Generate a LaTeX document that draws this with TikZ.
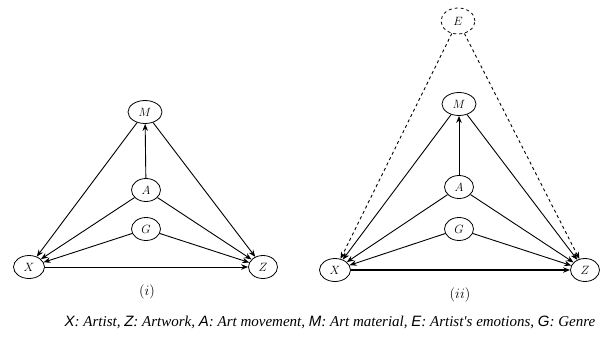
\documentclass[tikz,border=0pt]{standalone}
\usepackage{fontspec}
\usetikzlibrary{shapes.geometric,arrows.meta}
\newfontfamily\capsans{Liberation Sans}
\newfontfamily\capserif{Liberation Serif}
\begin{document}
\begin{tikzpicture}[x=1pt,y=-1pt,
  var/.style={draw,ellipse,line width=0.8pt,minimum width=31pt,minimum height=23pt,inner sep=0pt,font=\fontsize{12.5}{14}\selectfont},
  lat/.style={var,dashed},
  edge/.style={line width=0.9pt,-{Stealth[length=7pt,width=5.5pt]}},
  dedge/.style={edge,dashed},
  lbl/.style={font=\fontsize{14}{16}\selectfont},
  key/.style={\capsans\itshape}]
\useasboundingbox (0,0) rectangle (602,337);
% (i)
\node[var,minimum width=34pt] (M1) at (145,112) {$M$};
\node[var,minimum width=29pt] (A1) at (146,190) {$A$};
\node[var,minimum width=29pt] (G1) at (146,229) {$G$};
\node[var] (X1) at (29,267) {$X$};
\node[var,minimum width=29pt] (Z1) at (263,267) {$Z$};
\node[lbl] (L1) at (147,292) {$(i)$};
\draw[edge] (A1) -- (M1);
\draw[edge] (M1) -- (X1);
\draw[edge] (M1) -- (Z1);
\draw[edge] (A1) -- (X1);
\draw[edge] (A1) -- (Z1);
\draw[edge] (G1) -- (X1);
\draw[edge] (G1) -- (Z1);
\draw[edge] (X1) -- (Z1);
% (ii)
\node[lat,minimum width=34pt,minimum height=26pt] (E2) at (458,21) {$E$};
\node[var,minimum width=34pt] (M2) at (459,104) {$M$};
\node[var,minimum width=29pt] (A2) at (459,187) {$A$};
\node[var,minimum width=29pt] (G2) at (459,229) {$G$};
\node[var] (X2) at (335,270) {$X$};
\node[var,minimum width=29pt] (Z2) at (585,270) {$Z$};
\node[lbl] (L2) at (460,295) {$(ii)$};
\draw[dedge] (E2) -- (X2);
\draw[dedge] (E2) -- (Z2);
\draw[edge] (A2) -- (M2);
\draw[edge] (M2) -- (X2);
\draw[edge] (M2) -- (Z2);
\draw[edge] (A2) -- (X2);
\draw[edge] (A2) -- (Z2);
\draw[edge] (G2) -- (X2);
\draw[edge] (G2) -- (Z2);
\draw[edge,line width=1.2pt] (X2) -- (Z2);
% caption
\node[font=\fontsize{15}{17}\selectfont\capserif\itshape] (cap) at (330,322)
 {{\capsans X}: Artist, {\capsans Z}: Artwork, {\capsans A}: Art movement, {\capsans M}: Art material, {\capsans E}: Artist's emotions, {\capsans G}: Genre};
\end{tikzpicture}
\end{document}
